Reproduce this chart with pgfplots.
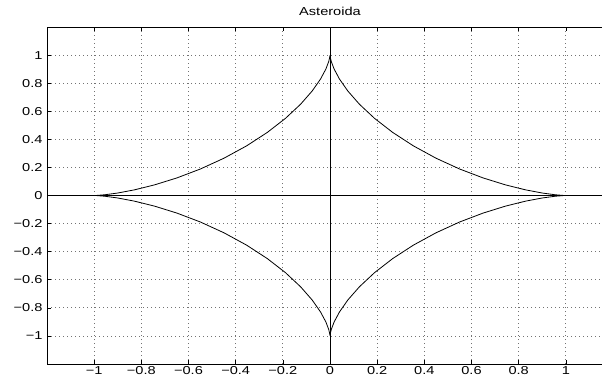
\documentclass[border=0pt]{standalone}
\usepackage{fontspec}
\setmainfont{Liberation Sans}[FakeStretch=1.27]
\usepackage{pgfplots}
\pgfplotsset{compat=1.18}
\begin{document}
\begin{tikzpicture}[x=1pt,y=1pt]
\useasboundingbox (0,0) rectangle (602,381);
\clip (0,0) rectangle (602,381);
\begin{axis}[
  at={(47pt,17pt)}, anchor=south west,
  scale only axis, width=566pt, height=337pt,
  xmin=-1.2, xmax=1.2, ymin=-1.2, ymax=1.2,
  xtick={-1,-0.8,-0.6,-0.4,-0.2,0,0.2,0.4,0.6,0.8,1},
  ytick={-1,-0.8,-0.6,-0.4,-0.2,0,0.2,0.4,0.6,0.8,1},
  xticklabels={−1,−0.8,−0.6,−0.4,−0.2,0,0.2,0.4,0.6,0.8,1},
  yticklabels={−1,−0.8,−0.6,−0.4,−0.2,0,0.2,0.4,0.6,0.8,1},
  tick label style={font=\fontsize{11.5}{13}\selectfont},
  tick align=inside, major tick length=4pt,
  tick style={black, line width=0.6pt},
  grid=major,
  major grid style={black!55, line width=0.7pt, dash pattern=on 0.9pt off 3.1pt},
  axis line style={black, line width=0.8pt},
  title={Asteroida},
  title style={font=\fontsize{11.5}{13}\selectfont, at={(0.5,1)}, anchor=south, yshift=2pt},
  yticklabel style={xshift=-1pt},
  xticklabel style={yshift=1pt},
]
\addplot[black, line width=0.8pt] coordinates {(-1.2,0) (1.2,0)};
\addplot[black, line width=0.8pt] coordinates {(0,-1.2) (0,1.2)};
\addplot[black, line width=0.8pt] coordinates {
(1,0) (0.997147,0.000083) (0.988628,0.000662) (0.955112,0.005236) (0.901221,0.017337)
(0.829769,0.040009) (0.744436,0.075482) (0.649519,0.125) (0.549659,0.188701)
(0.449533,0.265585) (0.353553,0.353553) (0.265585,0.449533) (0.188701,0.549659)
(0.125,0.649519) (0.075482,0.744436) (0.040009,0.829769) (0.017337,0.901221)
(0.005236,0.955112) (0.000662,0.988628) (0.000083,0.997147) (0,1)
(-0.000083,0.997147) (-0.000662,0.988628) (-0.005236,0.955112) (-0.017337,0.901221)
(-0.040009,0.829769) (-0.075482,0.744436) (-0.125,0.649519) (-0.188701,0.549659)
(-0.265585,0.449533) (-0.353553,0.353553) (-0.449533,0.265585) (-0.549659,0.188701)
(-0.649519,0.125) (-0.744436,0.075482) (-0.829769,0.040009) (-0.901221,0.017337)
(-0.955112,0.005236) (-0.988628,0.000662) (-0.997147,0.000083) (-1,0)
(-0.997147,-0.000083) (-0.988628,-0.000662) (-0.955112,-0.005236) (-0.901221,-0.017337)
(-0.829769,-0.040009) (-0.744436,-0.075482) (-0.649519,-0.125) (-0.549659,-0.188701)
(-0.449533,-0.265585) (-0.353553,-0.353553) (-0.265585,-0.449533) (-0.188701,-0.549659)
(-0.125,-0.649519) (-0.075482,-0.744436) (-0.040009,-0.829769) (-0.017337,-0.901221)
(-0.005236,-0.955112) (-0.000662,-0.988628) (-0.000083,-0.997147) (0,-1)
(0.000083,-0.997147) (0.000662,-0.988628) (0.005236,-0.955112) (0.017337,-0.901221)
(0.040009,-0.829769) (0.075482,-0.744436) (0.125,-0.649519) (0.188701,-0.549659)
(0.265585,-0.449533) (0.353553,-0.353553) (0.449533,-0.265585) (0.549659,-0.188701)
(0.649519,-0.125) (0.744436,-0.075482) (0.829769,-0.040009) (0.901221,-0.017337)
(0.955112,-0.005236) (0.988628,-0.000662) (0.997147,-0.000083) (1,0)
};
\end{axis}
\end{tikzpicture}
\end{document}
